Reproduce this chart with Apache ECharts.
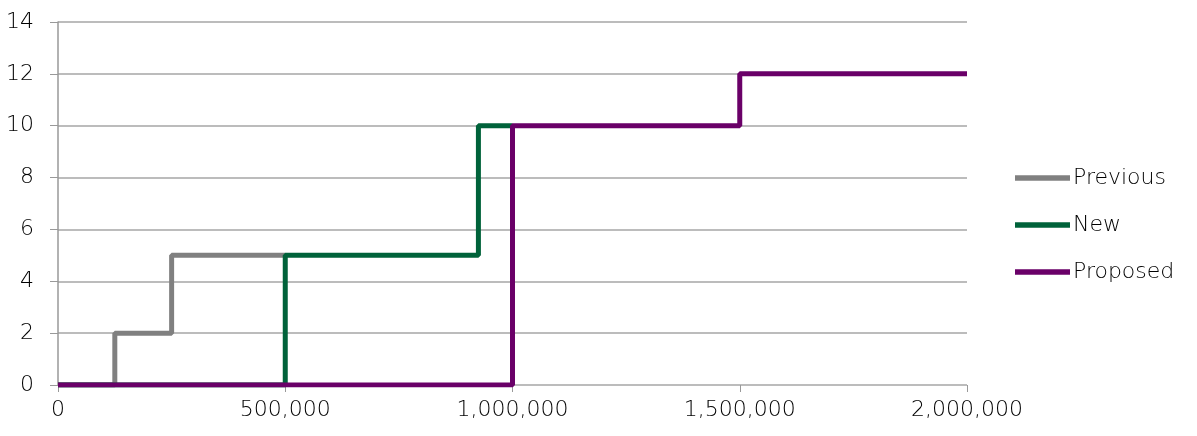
<!DOCTYPE html>
<html><head><meta charset="utf-8">
<script src="https://cdn.jsdelivr.net/npm/echarts@6/dist/echarts.min.js"></script>
<style>html,body{margin:0;padding:0;background:#fff}#c{width:1197px;height:436px}</style>
</head><body><div id="c"></div>
<script>
const seriesNames = ['Previous', 'New', 'Proposed'];
const previous = [[0,0],[125000,2],[250000,5],[500000,5]];
const newer = [[0,0],[500000,5],[925000,10],[1000000,10]];
const proposed = [[0,0],[1000000,10],[1500000,12],[2000000,12]];
const colors = ['#808080', '#00623A', '#6A0068'];
const yTicks = [0,2,4,6,8,10,12,14];
const xTicks = [0,500000,1000000,1500000,2000000];

const chart = echarts.init(document.getElementById('c'));
const font = '"DejaVu Sans", sans-serif';
const fmt = v => v.toLocaleString('en-US');
chart.setOption({
  animation: false,
  textStyle: {fontFamily: font, fontWeight: 300},
  grid: {left: 58, right: 230, top: 22, bottom: 51},
  legend: {
    orient: 'vertical', left: 1010, top: 162,
    itemWidth: 55, itemHeight: 14, itemGap: 25,
    textStyle: {fontSize: 22, lineHeight: 22, color: '#000', fontFamily: font, fontWeight: 300, padding: [0,0,0,-2]},
    data: seriesNames.map((n,i)=>({name:n, icon:'path://M0,0 L10,0 L10,1 L0,1 Z'}))
  },
  xAxis: {
    type: 'value', min: 0, max: 2000000, interval: 500000,
    axisLine: {show: false},
    axisTick: {show: true, length: 7, lineStyle: {color: '#999', width: 1}},
    axisLabel: {fontSize: 22, fontWeight: 300, color: '#000', margin: 14, formatter: v => fmt(v)},
    splitLine: {show: false}
  },
  yAxis: {
    type: 'value', min: 0, max: 14, interval: 2,
    axisLine: {show: true, lineStyle: {color: '#999', width: 1.5}},
    axisTick: {show: true, length: 8, lineStyle: {color: '#999', width: 1}},
    axisLabel: {fontSize: 22, fontWeight: 300, color: '#000', margin: 24},
    splitLine: {show: true, lineStyle: {color: '#a6a6a6', width: 1.5}}
  },
  series: [
    {name: seriesNames[0], type: 'line', step: 'end', data: previous, symbol: 'none', z: 1,
     lineStyle: {color: colors[0], width: 5}, itemStyle: {color: colors[0]}},
    {name: seriesNames[1], type: 'line', step: 'end', data: newer, symbol: 'none', z: 2,
     lineStyle: {color: colors[1], width: 5}, itemStyle: {color: colors[1]}},
    {name: seriesNames[2], type: 'line', step: 'end', data: proposed, symbol: 'none', z: 3,
     lineStyle: {color: colors[2], width: 5}, itemStyle: {color: colors[2]}}
  ]
});
</script></body></html>
